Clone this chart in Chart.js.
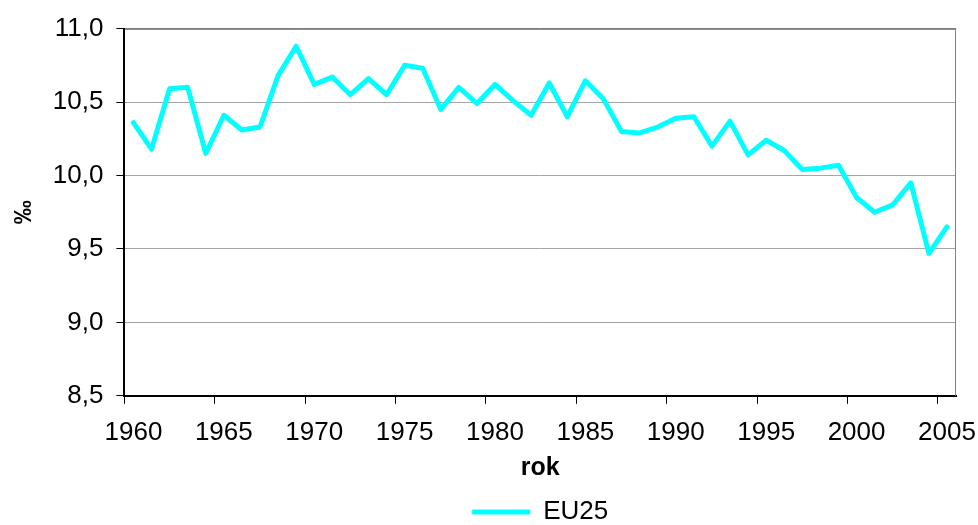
<!DOCTYPE html>
<html>
<head>
<meta charset="utf-8">
<script src="https://cdn.jsdelivr.net/npm/chart.js@4"></script>
<style>
  html, body { margin: 0; padding: 0; background: #fff; }
  #wrap { width: 978px; height: 525px; }
</style>
</head>
<body>
<div id="wrap"><canvas id="rateChart" width="978" height="525"></canvas></div>
<script>
const years = [];
for (let y = 1960; y <= 2005; y++) years.push(String(y));

const eu25 = [
    10.36, 10.18, 10.59, 10.60, 10.15, 10.41, 10.31, 10.33, 10.68, 10.88,
    10.62, 10.67, 10.55, 10.66, 10.55, 10.75, 10.73, 10.45, 10.60, 10.49,
    10.62, 10.51, 10.41, 10.63, 10.40, 10.645, 10.52, 10.30, 10.29, 10.33,
    10.39, 10.40, 10.20, 10.37, 10.14, 10.24, 10.17, 10.04, 10.05, 10.07,
    9.85, 9.75, 9.80, 9.95, 9.47, 9.65
];

const yTicks = [8.5, 9.0, 9.5, 10.0, 10.5, 11.0];

Chart.defaults.font.family = '"Liberation Sans", Arial, sans-serif';
Chart.defaults.color = '#000';

// frame on top and right side of the plot area
const plotFrame = {
    id: 'plotFrame',
    afterDraw(chart) {
        const a = chart.chartArea;
        const ctx = chart.ctx;
        ctx.save();
        ctx.lineWidth = 1;
        ctx.strokeStyle = '#404040';
        ctx.beginPath();
        ctx.moveTo(a.left, a.top + 0.5);
        ctx.lineTo(a.right, a.top + 0.5);
        ctx.stroke();
        ctx.strokeStyle = '#808080';
        ctx.beginPath();
        ctx.moveTo(a.right - 0.5, a.top);
        ctx.lineTo(a.right - 0.5, a.bottom);
        ctx.stroke();
        ctx.restore();
    }
};

const ctx = document.getElementById('rateChart').getContext('2d');
new Chart(ctx, {
    type: 'line',
    data: {
        labels: years,
        datasets: [{
            label: 'EU25',
            data: eu25,
            borderColor: '#00FFFF',
            backgroundColor: '#00FFFF',
            borderWidth: 5,
            borderJoinStyle: 'round',
            borderCapStyle: 'round',
            pointRadius: 0,
            tension: 0,
            fill: false
        }]
    },
    options: {
        responsive: false,
        animation: false,
        layout: { padding: { left: 6, right: 22, top: 27, bottom: -10 } },
        plugins: {
            legend: {
                position: 'bottom',
                fullSize: false,
                labels: {
                    boxWidth: 58,
                    boxHeight: 5,
                    padding: 2,
                    font: { size: 26 },
                    generateLabels: chart =>
                        Chart.defaults.plugins.legend.labels.generateLabels(chart)
                            .map(l => Object.assign(l, { lineWidth: 0 }))
                }
            },
            tooltip: { enabled: false }
        },
        scales: {
            x: {
                offset: true,
                afterFit: s => { s.paddingLeft = 0; s.paddingRight = 0; },
                grid: {
                    offset: true,
                    drawOnChartArea: false,
                    tickLength: 8,
                    tickColor: c => (c.index % 5 === 0 ? '#000' : 'rgba(0,0,0,0)')
                },
                border: { color: '#000', width: 2 },
                ticks: {
                    autoSkip: false,
                    maxRotation: 0,
                    padding: 13,
                    font: { size: 26 },
                    callback: function (v) {
                        const lab = this.getLabelForValue(v);
                        return Number(lab) % 5 === 0 ? lab : '';
                    }
                },
                title: {
                    display: true,
                    text: 'rok',
                    font: { size: 25, weight: 'bold', lineHeight: 0.6 },
                    padding: { top: 0, bottom: 21 }
                }
            },
            y: {
                min: 8.5,
                max: 11.0,
                afterBuildTicks: axis => { axis.ticks = yTicks.map(v => ({ value: v })); },
                grid: {
                    color: '#a6a6a6',
                    tickColor: '#000',
                    tickLength: 8
                },
                border: { color: '#000', width: 2 },
                ticks: {
                    padding: 13,
                    font: { size: 26 },
                    callback: v => v.toFixed(1).replace('.', ',')
                },
                title: {
                    display: true,
                    text: '‰',
                    font: { size: 24, weight: 'bold' },
                    padding: { top: 4, bottom: 1 }
                }
            }
        }
    },
    plugins: [plotFrame]
});
</script>
</body>
</html>
